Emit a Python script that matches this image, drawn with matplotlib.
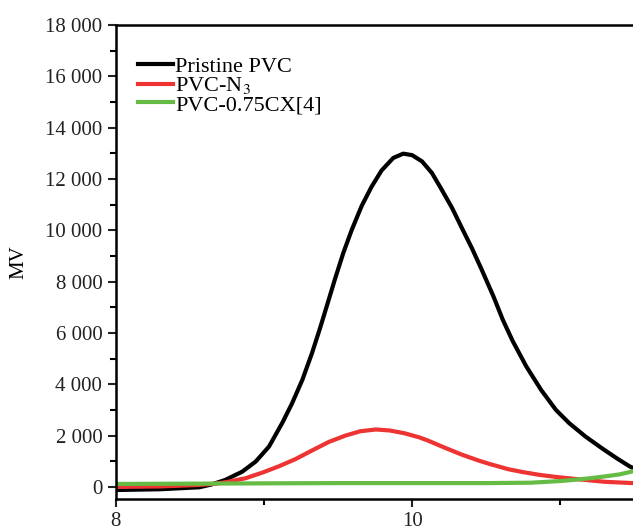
import numpy as np
import matplotlib
matplotlib.use("Agg")
import matplotlib.pyplot as plt
from matplotlib.ticker import FuncFormatter, MultipleLocator

# traces (x, MV)
black_x = [8.0, 8.3, 8.566, 8.65, 8.74, 8.855, 8.945, 9.035, 9.125, 9.19, 9.26, 9.325,
           9.38, 9.425, 9.48, 9.536, 9.592, 9.66, 9.727, 9.794, 9.873, 9.94, 10.0,
           10.067, 10.134, 10.20, 10.27, 10.336, 10.403, 10.47, 10.549, 10.612, 10.679,
           10.77, 10.87, 10.97, 11.06, 11.17, 11.28, 11.38, 11.47, 11.49]
black_y = [-120, -90, -12, 100, 273, 597, 987, 1572, 2500, 3250, 4173, 5214,
           6200, 7050, 8100, 9114, 10000, 10950, 11700, 12330, 12819, 12987, 12930,
           12687, 12234, 11583, 10869, 10089, 9309, 8463, 7422, 6513, 5680,
           4700, 3783, 3003, 2484, 1962, 1509, 1119, 792, 740]

red_x = [8.0, 8.3, 8.566, 8.68, 8.765, 8.877, 8.99, 9.10, 9.212, 9.325, 9.437, 9.55,
         9.65, 9.756, 9.85, 9.95, 10.05, 10.11, 10.22, 10.335, 10.448, 10.52, 10.65,
         10.746, 10.86, 10.97, 11.12, 11.30, 11.49]
red_y = [0, 20, 78, 130, 207, 339, 558, 800, 1080, 1420, 1750, 2000,
         2170, 2240, 2200, 2090, 1930, 1800, 1530, 1260, 1030, 900, 690,
         580, 470, 390, 300, 200, 150]

green_x = [8.0, 8.6, 9.0, 9.5, 10.0, 10.5, 10.8, 11.0, 11.1, 11.2, 11.3, 11.4, 11.49]
green_y = [117, 130, 140, 150, 150, 150, 165, 230, 280, 340, 410, 490, 610]

labels = ["Pristine PVC", "PVC-N$_3$", "PVC-0.75CX[4]"]
colors = ["#000000", "#ee3333", "#66bb44"]

plt.rcParams['font.family'] = ['Liberation Serif', 'DejaVu Serif']
plt.rcParams['mathtext.fontset'] = 'stix'

fig = plt.figure(figsize=(6.33, 5.29), dpi=100)
ax = fig.add_axes([0.1825, 0.0567, 0.8175, 0.896])

for xs, ys, c, lab in zip([black_x, red_x, green_x], [black_y, red_y, green_y], colors, labels):
    ax.plot(xs, ys, color=c, lw=3, label=lab, solid_joinstyle='round')

ax.set_xlim(8, 11.49)
ax.set_ylim(-470, 18000)
ax.xaxis.set_major_locator(MultipleLocator(2))
ax.xaxis.set_minor_locator(MultipleLocator(1))
ax.yaxis.set_major_locator(MultipleLocator(2000))
ax.yaxis.set_minor_locator(MultipleLocator(1000))
ax.yaxis.set_major_formatter(FuncFormatter(lambda v, p: f"{int(v):,}".replace(",", " ")))
ax.tick_params(which='major', direction='out', length=6, width=1.5, labelsize=15, colors='#222222')
ax.tick_params(which='minor', direction='out', length=4, width=1.5)
for s in ['left', 'bottom', 'top']:
    ax.spines[s].set_linewidth(1.8)
ax.spines['right'].set_visible(False)

ax.set_ylabel("MV", fontsize=15, labelpad=12)

ax.legend(loc='upper left', bbox_to_anchor=(0.027, 0.952), frameon=False, fontsize=16,
          handlelength=1.55, handletextpad=0.12, labelspacing=-0.08, borderaxespad=0)

fig.savefig("out.png", dpi=100)
